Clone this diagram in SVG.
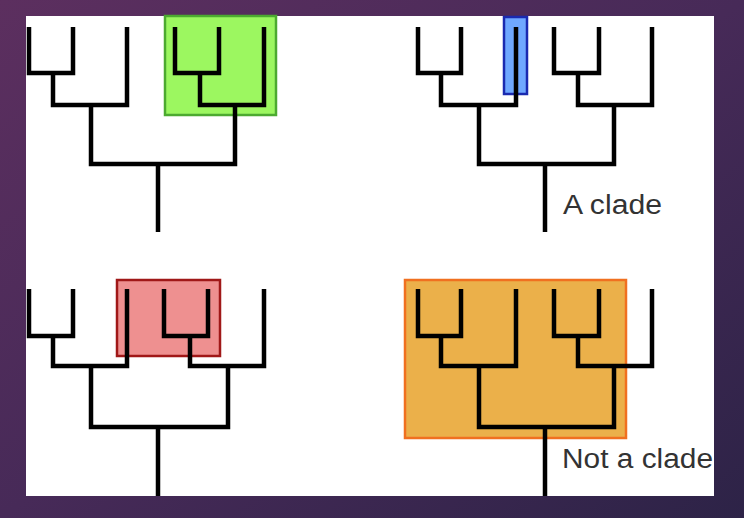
<svg xmlns="http://www.w3.org/2000/svg" width="744" height="518" viewBox="0 0 744 518">
<defs>
<linearGradient id="bg" x1="0" y1="0" x2="1" y2="1">
<stop offset="0" stop-color="#5c2f5f"/><stop offset="0.5" stop-color="#472a58"/><stop offset="1" stop-color="#2d2347"/>
</linearGradient>
<style>
.t{fill:none;stroke:#000;stroke-width:4.5;stroke-linejoin:miter;stroke-linecap:butt}
.lb{font-family:"Liberation Sans",Arial,sans-serif;font-size:27px;fill:#333}
</style>
</defs>
<rect width="744" height="518" fill="url(#bg)"/>
<rect x="26" y="16" width="688" height="480" fill="#fff"/>
<g id="box-green"><rect x="165" y="16" width="111" height="99" fill="#9cf760" stroke="#4caa30" stroke-width="2.5"/></g>
<g id="box-blue"><rect x="504" y="17" width="23" height="77" fill="#6fa8ff" stroke="#1a2ab0" stroke-width="2.5"/></g>
<g id="box-red"><rect x="117" y="280" width="103" height="76" fill="#ee9090" stroke="#a01818" stroke-width="2.5"/></g>
<g id="box-orange"><rect x="405" y="280" width="221" height="158" fill="#ebb04a" stroke="#f07020" stroke-width="2.5"/></g>
<g id="connectors">
<path class="t" d="M29,27V73H73V27M53,73V105H127V27M91,105V164H235V105M175,27V73H219V27M200,73V105H264V27M158,164V232"/>
<path class="t" d="M418,27V73H461V27M441,73V105H516V27M479,105V164H614V105M554,27V73H599V27M578,73V105H652V27M545,164V232"/>
<path class="t" d="M29,289V336H73V289M53,336V366H127V289M91,366V427H228V366M164,289V336H208V289M190,336V366H264V289M158,427V496"/>
<path class="t" d="M418,289V336H461V289M441,336V366H516V289M479,366V427H614V366M554,289V336H599V289M578,336V366H652V289M545,427V496"/>
</g>
<text class="lb" x="563" y="214" textLength="99" lengthAdjust="spacingAndGlyphs">A clade</text>
<text class="lb" x="562" y="468" textLength="151" lengthAdjust="spacingAndGlyphs">Not a clade</text>
</svg>
